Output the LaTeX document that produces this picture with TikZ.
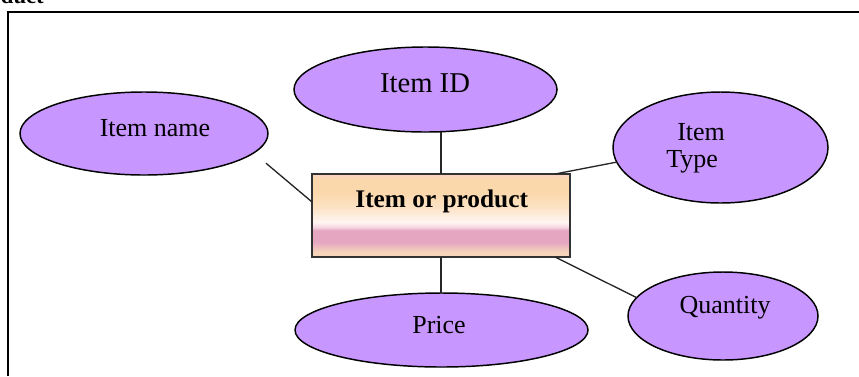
\documentclass[tikz,border=0pt]{standalone}
\usepackage{fontspec}
\setmainfont{Liberation Serif}
\usetikzlibrary{calc,shapes.geometric}
\definecolor{lilac}{RGB}{200,150,255}
\definecolor{peachtop}{RGB}{248,210,196}
\definecolor{peachhi}{RGB}{251,216,172}
\definecolor{peachmid}{RGB}{252,226,196}
\definecolor{paleband}{RGB}{255,246,243}
\definecolor{pinkpale}{RGB}{246,214,226}
\definecolor{pinkband}{RGB}{229,166,193}
\definecolor{peachlo}{RGB}{246,212,186}
\pgfdeclareverticalshading{peachband}{100bp}{color(0bp)=(peachlo); color(25bp)=(peachlo); color(28bp)=(peachlo); color(34bp)=(pinkband); color(41bp)=(pinkband); color(43bp)=(pinkpale); color(46bp)=(paleband); color(55bp)=(peachmid); color(64bp)=(peachhi); color(72bp)=(peachhi); color(75bp)=(peachtop); color(100bp)=(peachtop)}
\tikzset{
	attr/.style={ellipse, draw=black, line width=1.1pt, fill=lilac, inner sep=0pt, outer sep=0pt},
	entity/.style={rectangle, draw=black!80, line width=1.1pt, shading=peachband, inner sep=0pt, outer sep=0pt, minimum width=193.5pt, minimum height=62.25pt},
	lbl/.style={anchor=base, inner sep=0pt, font=\fontsize{19.5}{22}\selectfont},
	link/.style={line width=1pt, color=black!85}
}

\begin{document}
\begin{tikzpicture}[x=0.75pt, y=-0.75pt]
			%%%%% START %%%%%
			\useasboundingbox (0,0) rectangle (859,376);
			
			\node[anchor=base east, inner sep=0pt, font=\bfseries\fontsize{17}{20}\selectfont] (hdr) at (44,3) {Product};
			\draw[line width=1.5pt] (8,376) -- (8,12) -- (859,12);
			
			\node[entity] (item) at (441,215.5) {};
			\node[lbl, font=\bfseries\fontsize{19}{22}\selectfont] (itemtxt) at (441.7,207.7) {Item or product};
			
			\node[attr, minimum width=186pt, minimum height=62.25pt] (iname) at (144,133.5) {};
			\node[lbl] (inametxt) at (155,136) {Item name};
			
			\node[attr, minimum width=197.25pt, minimum height=63.75pt] (iid) at (425.5,89.5) {};
			\node[lbl, font=\fontsize{21.5}{24}\selectfont] (iidtxt) at (425,92.7) {Item ID};
			
			\node[attr, minimum width=161.25pt, minimum height=83.25pt] (itype) at (720.5,147.5) {};
			\node[lbl, anchor=base west] (itypetxt) at (677,140.7) {Item};
			\node[lbl, anchor=base west] (itypetxtb) at (666,167) {Type};
			
			\node[attr, minimum width=142.5pt, minimum height=66pt] (qty) at (723,316) {};
			\node[lbl] (qtytxt) at (725,313.3) {Quantity};
			
			\node[attr, minimum width=219.75pt, minimum height=55.5pt] (price) at (441.5,330) {};
			\node[lbl] (pricetxt) at (439,333.3) {Price};
			
			\draw[link, shorten >=12pt] (item.174) -- (iname.-10);
			\draw[link] (item.north) -- (item.north |- iid.south);
			\draw[link] (item.20) -- (itype.188);
			\draw[link] (item.-20) -- (qty.168);
			\draw[link] (item.south) -- (item.south |- price.north);
			%%%%% END %%%%%
\end{tikzpicture}
\end{document}
